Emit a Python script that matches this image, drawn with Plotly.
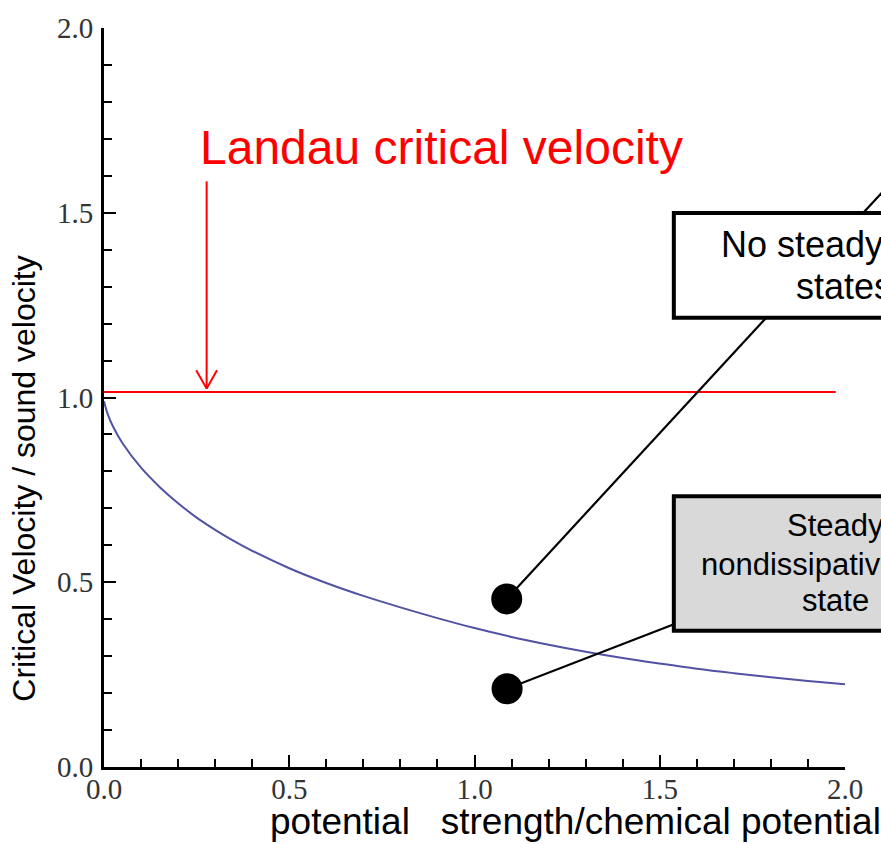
import plotly.graph_objects as go

# ---------------- data ----------------
curve_x = [0, 0.01, 0.025, 0.05, 0.1, 0.15, 0.2, 0.25, 0.3, 0.35, 0.4, 0.5, 0.6, 0.7,
           0.8, 0.9, 1.0, 1.1, 1.2, 1.3, 1.4, 1.5, 1.6, 1.7, 1.8, 1.9, 2.0]
curve_y = [0.99, 0.955, 0.92, 0.876, 0.81, 0.758, 0.714, 0.675, 0.642, 0.612, 0.585,
           0.538, 0.498, 0.463, 0.432, 0.403, 0.376, 0.352, 0.331, 0.312, 0.295,
           0.280, 0.266, 0.254, 0.243, 0.233, 0.224]

landau_x = [0.0, 1.975]
landau_y = [1.015, 1.015]

state_x = [1.087, 1.088]
state_y = [0.455, 0.212]

tick_vals = [0.0, 0.5, 1.0, 1.5, 2.0]
tick_text = ["0.0", "0.5", "1.0", "1.5", "2.0"]

x_title = "potential\u00a0\u00a0\u00a0strength/chemical potential"
y_title = "Critical Velocity / sound velocity"
landau_label = "Landau critical velocity"
box1_lines = ["No steady", "states"]
box2_lines = ["Steady", "nondissipative", "state"]

# ---------------- layout geometry ----------------
FIG_W, FIG_H = 881, 844
ML, MR, MT, MB = 104, 36, 25, 77
PW = FIG_W - ML - MR
PH = FIG_H - MT - MB
X_RANGE = [0, 2]
Y_RANGE = [0, 2]


def xp(v):  # data -> paper
    return (v - X_RANGE[0]) / (X_RANGE[1] - X_RANGE[0])


def yp(v):
    return (v - Y_RANGE[0]) / (Y_RANGE[1] - Y_RANGE[0])


def xpx(p):  # pixel -> paper
    return (p - ML) / PW


def ypx(p):
    return (FIG_H - MB - p) / PH


SANS = "Liberation Sans, Arial, sans-serif"
SERIF = "Liberation Serif, Times New Roman, serif"

fig = go.Figure()

fig.add_trace(go.Scatter(x=curve_x, y=curve_y, mode="lines", line_shape="spline",
                         line=dict(color="#5252a4", width=2), hoverinfo="skip"))
fig.add_trace(go.Scatter(x=landau_x, y=landau_y, mode="lines",
                         line=dict(color="#ff0000", width=2), hoverinfo="skip"))
fig.add_trace(go.Scatter(x=state_x, y=state_y, mode="markers",
                         marker=dict(color="black", size=31), hoverinfo="skip"))

shapes = []
# red arrow (Landau)
ax_x, ax_top, ax_tip = 0.277, 1.585, 1.024
shapes.append(dict(type="line", xref="x", yref="y", x0=ax_x, x1=ax_x, y0=ax_top, y1=ax_tip,
                   line=dict(color="#ff0000", width=2), layer="above"))
for s in (-1, 1):
    shapes.append(dict(type="line", xref="x", yref="y", x0=ax_x, y0=ax_tip,
                       x1=ax_x + s * 0.028, y1=ax_tip + 0.05,
                       line=dict(color="#ff0000", width=2), layer="above"))

# connector lines
d1x, d1y = state_x[0], state_y[0]
shapes.append(dict(type="line", xref="paper", yref="paper",
                   x0=xp(d1x), y0=yp(d1y), x1=xp(2.4), y1=yp(d1y + (2.4 - d1x) * 1.086),
                   line=dict(color="black", width=2.2), layer="above"))
d2x, d2y = state_x[1], state_y[1]
shapes.append(dict(type="line", xref="paper", yref="paper",
                   x0=xp(d2x), y0=yp(d2y), x1=xp(1.54), y1=yp(0.387),
                   line=dict(color="black", width=2.2), layer="above"))

# boxes
shapes.append(dict(type="rect", xref="paper", yref="paper",
                   x0=xp(1.538), x1=xp(2.6), y0=yp(1.216), y1=yp(1.499),
                   fillcolor="white", line=dict(color="black", width=4), layer="above"))
shapes.append(dict(type="rect", xref="paper", yref="paper",
                   x0=xp(1.538), x1=xp(2.6), y0=yp(0.369), y1=yp(0.733),
                   fillcolor="#d9d9d9", line=dict(color="black", width=4), layer="above"))

annotations = []


def txt(text, xpix, ypix, size, color="black", xanchor="left", angle=0):
    annotations.append(dict(text=text, xref="paper", yref="paper", x=xpx(xpix), y=ypx(ypix),
                            xanchor=xanchor, yanchor="middle", showarrow=False,
                            textangle=angle, font=dict(family=SANS, size=size, color=color)))


txt(landau_label, 197.5, 145, 48, color="#ff0000")
txt(box1_lines[0], 719, 242, 36)
txt(box1_lines[1], 794, 285, 36)
txt(box2_lines[0], 784.5, 524.5, 31)
txt(box2_lines[1], 699, 563.5, 31)
txt(box2_lines[2], 800, 599.5, 31)
txt(x_title, 267.6, 822, 37)
annotations.append(dict(text=y_title, xref="paper", yref="paper", x=xpx(24), y=ypx(477.5),
                        xanchor="center", yanchor="middle", showarrow=False, textangle=-90,
                        font=dict(family=SANS, size=32, color="black")))

axis_common = dict(
    tickmode="array", tickvals=tick_vals, ticktext=tick_text,
    ticks="inside", ticklen=12, tickwidth=2, tickcolor="black",
    minor=dict(dtick=0.1, ticks="inside", ticklen=8, tickwidth=2, tickcolor="black",
               showgrid=False),
    showline=True, linewidth=3, linecolor="black", mirror=False,
    showgrid=False, zeroline=False,
    tickfont=dict(family=SERIF, size=29, color="#333333"),
)

fig.update_layout(
    width=FIG_W, height=FIG_H,
    margin=dict(l=ML, r=MR, t=MT, b=MB, pad=0),
    paper_bgcolor="white", plot_bgcolor="white",
    showlegend=False,
    xaxis=dict(range=X_RANGE, ticklabelstandoff=-6, **axis_common),
    yaxis=dict(range=Y_RANGE, ticklabelstandoff=2, **axis_common),
    shapes=shapes, annotations=annotations,
)

fig.write_html("out.html")
